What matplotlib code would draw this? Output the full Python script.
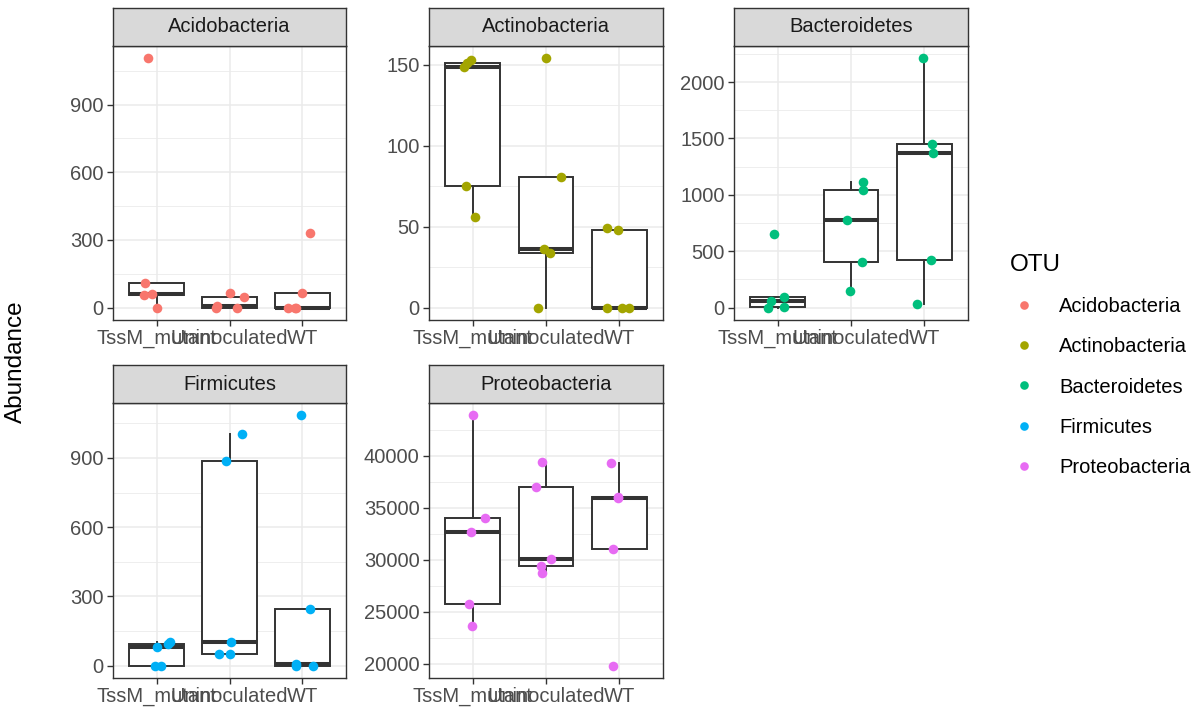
import matplotlib
matplotlib.use("Agg")
import matplotlib.pyplot as plt
from matplotlib.lines import Line2D
import numpy as np


GROUPS = ["TssM_mutant", "Uninoculated", "WT"]
PHYLA = ["Acidobacteria", "Actinobacteria", "Bacteroidetes", "Firmicutes", "Proteobacteria"]
COLORS = ["#F8766D", "#A3A500", "#00BF7D", "#00B0F6", "#E76BF3"]

# abundance per sample, one list per group (TssM_mutant, Uninoculated, WT)
ACIDOBACTERIA = [[1105, 110, 55, 60, 0], [0, 65, 0, 45, 5], [0, 0, 0, 65, 330]]
ACTINOBACTERIA = [[149, 151, 153, 75, 56], [154, 81, 36, 34, 0], [49, 48, 0, 0, 0]]
BACTEROIDETES = [[655, 60, 0, 90, 5], [1115, 1045, 780, 405, 150], [2210, 1450, 1370, 425, 30]]
FIRMICUTES = [[0, 0, 82, 100, 95], [1004, 888, 101, 48, 50], [1084, 243, 0, 0, 5]]
PROTEOBACTERIA = [[43860, 33960, 32670, 25690, 23600],
                  [39420, 37010, 30100, 29390, 28750],
                  [39290, 35950, 36050, 31000, 19810]]

# horizontal jitter of each point (category units)
ACIDOBACTERIA_JIT = [[-0.12, -0.16, -0.18, -0.06, 0.0], [-0.18, 0.01, 0.10, 0.20, -0.17], [-0.20, -0.10, -0.08, -0.01, 0.10]]
ACTINOBACTERIA_JIT = [[-0.12, -0.08, -0.03, -0.09, 0.03], [0.0, 0.20, -0.03, 0.05, -0.11], [-0.17, -0.01, -0.17, 0.04, 0.14]]
BACTEROIDETES_JIT = [[-0.05, -0.10, -0.13, 0.09, 0.08], [0.16, 0.17, -0.05, 0.15, -0.01], [-0.01, 0.11, 0.12, 0.09, -0.10]]
FIRMICUTES_JIT = [[-0.03, 0.06, 0.01, 0.18, 0.16], [0.17, -0.05, 0.02, -0.15, 0.01], [-0.02, 0.10, -0.08, 0.14, -0.08]]
PROTEOBACTERIA_JIT = [[0.0, 0.16, -0.02, -0.05, -0.01], [-0.05, -0.14, 0.07, -0.07, -0.05], [-0.11, -0.02, -0.02, -0.09, -0.09]]

Y_TICKS = [
    [0, 300, 600, 900],
    [0, 50, 100, 150],
    [0, 500, 1000, 1500, 2000],
    [0, 300, 600, 900],
    [20000, 25000, 30000, 35000, 40000],
]

W, H = 1199, 712
COLS = [(113, 346), (429, 663), (734, 968)]
ROWS = [(46, 320), (403, 678)]
STRIPS = [(8, 46), (365, 403)]

INK = "#333333"
GRID = "#EBEBEB"
SMALL = 14.5
BIG = 17.5


def rect(x0, x1, y0, y1):
    return [x0 / W, 1 - y1 / H, (x1 - x0) / W, (y1 - y0) / H]


def main() -> None:
    plt.rcParams["font.family"] = ["Liberation Sans", "DejaVu Sans"]
    fig = plt.figure(figsize=(W / 100, H / 100), dpi=100)

    data = [ACIDOBACTERIA, ACTINOBACTERIA, BACTEROIDETES, FIRMICUTES, PROTEOBACTERIA]
    jitter = [ACIDOBACTERIA_JIT, ACTINOBACTERIA_JIT, BACTEROIDETES_JIT, FIRMICUTES_JIT, PROTEOBACTERIA_JIT]

    for k, name in enumerate(PHYLA):
        r, c = divmod(k, 3)
        x0, x1 = COLS[c]
        y0, y1 = ROWS[r]
        ax = fig.add_axes(rect(x0, x1, y0, y1))
        sx = fig.add_axes(rect(x0, x1, STRIPS[r][0], STRIPS[r][1]))

        vals = data[k]
        ax.boxplot(vals, positions=range(len(GROUPS)), widths=0.75, showfliers=False,
                   showcaps=False, patch_artist=True,
                   boxprops=dict(facecolor="white", edgecolor=INK, linewidth=1.4),
                   whiskerprops=dict(color=INK, linewidth=1.4),
                   medianprops=dict(color=INK, linewidth=2.9, solid_capstyle="butt"),
                   zorder=2)
        for g in range(len(GROUPS)):
            xs = g + np.array(jitter[k][g])
            ax.scatter(xs, vals[g], s=48, color=COLORS[k], linewidths=0, zorder=3)

        flat = np.concatenate([np.asarray(v, float) for v in vals])
        lo, hi = flat.min(), flat.max()
        pad = 0.05 * (hi - lo)
        ax.set_ylim(lo - pad, hi + pad)
        ax.set_xlim(-0.6, len(GROUPS) - 0.4)

        ticks = Y_TICKS[k]
        step = ticks[1] - ticks[0]
        minor = np.arange(ticks[0] - step / 2, hi + pad, step)
        minor = minor[(minor > lo - pad)]
        ax.set_yticks(ticks)
        ax.set_yticks(minor, minor=True)
        ax.set_xticks(range(len(GROUPS)))
        ax.set_xticklabels(GROUPS)
        ax.grid(which="major", color=GRID, linewidth=1.1)
        ax.grid(which="minor", axis="y", color=GRID, linewidth=0.6)
        ax.set_axisbelow(True)
        ax.tick_params(which="major", length=4.3, width=1.0, color=INK,
                       labelsize=SMALL, labelcolor="#4D4D4D", pad=2.5)
        ax.tick_params(which="minor", length=0)
        for sp in ax.spines.values():
            sp.set_color(INK)
            sp.set_linewidth(1.0)

        sx.set_facecolor("#D9D9D9")
        sx.set_xticks([])
        sx.set_yticks([])
        for sp in sx.spines.values():
            sp.set_color(INK)
            sp.set_linewidth(1.0)
        sx.text(0.5, 0.5, name, ha="center", va="center", fontsize=SMALL,
                color="#1A1A1A", transform=sx.transAxes)

    fig.text(16 / W, 1 - 362 / H, "Abundance", rotation=90, ha="center", va="center",
             fontsize=BIG, color="black")

    handles = [Line2D([], [], marker="o", linestyle="", markersize=6.2,
                      markerfacecolor=col, markeredgewidth=0) for col in COLORS]
    fig.legend(handles, PHYLA, title="OTU", loc="upper left",
               bbox_to_anchor=(996 / W, 1 - 240 / H), frameon=False,
               fontsize=SMALL, title_fontsize=BIG, labelspacing=1.05,
               handletextpad=1.05, handlelength=1.4, alignment="left",
               borderpad=0.2)

    fig.savefig("out.png", dpi=100)


if __name__ == "__main__":
    main()
